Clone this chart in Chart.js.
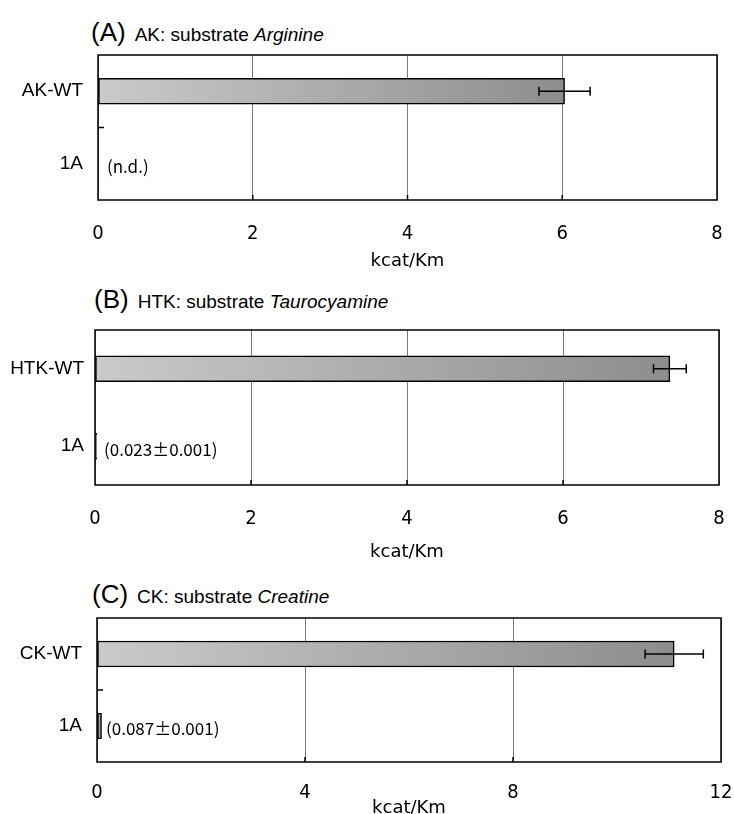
<!DOCTYPE html>
<html>
<head>
<meta charset="utf-8">
<script src="https://cdn.jsdelivr.net/npm/chart.js@4"></script>
<style>
  body { margin: 0; background: #fff; }
  #page { position: relative; width: 734px; height: 814px; }
  canvas { position: absolute; left: 0; }
  .ttl { position: absolute; font-family: 'Liberation Sans', Arial, sans-serif; line-height: 26px; white-space: nowrap; color: #000; }
  .ttl .big { font-size: 26px; }
  .ttl .sub { font-size: 19px; margin-left: 9px; }
</style>
</head>
<body>
<div id="page">
  <div class="ttl" style="left:91px; top:19px;"><span class="big">(A)</span><span class="sub">AK: substrate <i>Arginine</i></span></div>
  <div class="ttl" style="left:94px; top:286px;"><span class="big">(B)</span><span class="sub">HTK: substrate <i>Taurocyamine</i></span></div>
  <div class="ttl" style="left:92px; top:581px;"><span class="big">(C)</span><span class="sub">CK: substrate <i>Creatine</i></span></div>
  <div style="position:absolute; left:0; top:43px;"><canvas id="chartA" width="734" height="237"></canvas></div>
  <div style="position:absolute; left:0; top:318px;"><canvas id="chartB" width="734" height="252"></canvas></div>
  <div style="position:absolute; left:0; top:606px;"><canvas id="chartC" width="734" height="208"></canvas></div>
</div>
<script>
// (A) AK, substrate arginine
const akLabels = ['AK-WT', '1A'];
const akValues = [6.03, 0];
const akErrors = [0.33, null];
const akNotes = ['', '(n.d.)'];

// (B) HTK, substrate taurocyamine
const htkLabels = ['HTK-WT', '1A'];
const htkValues = [7.37, 0.023];
const htkErrors = [0.21, null];
const htkNotes = ['', '(0.023\u00b10.001)'];

// (C) CK, substrate creatine
const ckLabels = ['CK-WT', '1A'];
const ckValues = [11.1, 0.087];
const ckErrors = [0.56, null];
const ckNotes = ['', '(0.087\u00b10.001)'];

const axisTitle = 'kcat/Km';

const tickFont = "'Liberation Sans Narrow', 'DejaVu Sans Condensed', sans-serif";
const catFont = "'Liberation Sans', Arial, sans-serif";
const noteFont = "'Noto Sans CJK JP', sans-serif";

// error bars, notes, outer box and the little inner ticks
const framePlugin = {
    id: 'frame',
    afterDatasetsDraw(chart, args, opts) {
        const { ctx, chartArea: a, scales: { x, y } } = chart;
        const ds = chart.data.datasets[0];
        const meta = chart.getDatasetMeta(0);
        ctx.save();
        ctx.strokeStyle = '#000';
        ctx.lineWidth = 1.5;
        meta.data.forEach((bar, i) => {
            const e = ds.errors[i];
            if (e == null) return;
            const v = ds.data[i];
            const x1 = x.getPixelForValue(v - e);
            const x2 = x.getPixelForValue(v + e);
            ctx.beginPath();
            ctx.moveTo(x1, bar.y); ctx.lineTo(x2, bar.y);
            ctx.moveTo(x1, bar.y - 4.5); ctx.lineTo(x1, bar.y + 4.5);
            ctx.moveTo(x2, bar.y - 4.5); ctx.lineTo(x2, bar.y + 4.5);
            ctx.stroke();
        });

        ctx.fillStyle = '#000';
        ctx.font = '17px ' + noteFont;
        ctx.textBaseline = 'middle';
        ctx.textAlign = 'left';
        meta.data.forEach((bar, i) => {
            const note = ds.notes[i];
            if (!note) return;
            const tx = Math.max(bar.x + 3, a.left + 9);
            ctx.fillText(note, tx, bar.y + 3);
        });

        // outer box
        ctx.lineWidth = 1.5;
        ctx.strokeRect(a.left, a.top, a.width, a.height);

        // short ticks pointing inward on the bottom axis
        ctx.beginPath();
        x.ticks.forEach((t, i) => {
            if (i === 0 || i === x.ticks.length - 1) return;
            const px = x.getPixelForValue(t.value);
            ctx.moveTo(px, a.bottom); ctx.lineTo(px, a.bottom - 5);
        });
        // separator tick between the two categories
        if (opts.sepTick) {
            const sy = (y.getPixelForTick(0) + y.getPixelForTick(1)) / 2;
            ctx.moveTo(a.left, sy); ctx.lineTo(a.left + 6, sy);
        }
        ctx.stroke();
        ctx.restore();
    }
};

function barGradient(c) {
    const chart = c.chart;
    if (!chart.chartArea || c.type !== 'data') return '#aaaaaa';
    const x = chart.scales.x;
    const x0 = x.getPixelForValue(0);
    const x1 = x.getPixelForValue(c.raw);
    if (x1 - x0 < 2) return '#9a9a9a';
    const g = chart.ctx.createLinearGradient(x0, 0, x1, 0);
    g.addColorStop(0, '#cacaca');
    g.addColorStop(1, '#8d8d8d');
    return g;
}

function makeChart(id, labels, values, errors, notes, p) {
    return new Chart(document.getElementById(id).getContext('2d'), {
        type: 'bar',
        data: {
            labels,
            datasets: [{
                data: values,
                errors,
                notes,
                backgroundColor: barGradient,
                borderColor: '#000',
                borderWidth: 1.5,
                borderSkipped: false,
                barThickness: 26
            }]
        },
        options: {
            indexAxis: 'y',
            responsive: false,
            animation: false,
            layout: { padding: { top: 12, right: p.right, left: 0, bottom: 0 } },
            plugins: {
                legend: { display: false },
                tooltip: { enabled: false },
                frame: { sepTick: p.sepTick }
            },
            scales: {
                x: {
                    min: 0,
                    max: p.max,
                    ticks: {
                        stepSize: p.step,
                        padding: 0,
                        color: '#000',
                        font: { family: tickFont, size: 20 }
                    },
                    grid: {
                        color: '#7a7a7a',
                        lineWidth: 1,
                        drawTicks: true,
                        tickLength: p.tickPad,
                        tickColor: 'rgba(0,0,0,0)'
                    },
                    border: { display: false },
                    title: {
                        display: true,
                        text: axisTitle,
                        color: '#000',
                        font: { family: "'DejaVu Sans', sans-serif", size: 18, lineHeight: p.titleLH },
                        padding: { top: 0, bottom: p.titlePad }
                    },
                    afterFit(s) { s.height = p.xHeight; }
                },
                y: {
                    ticks: {
                        padding: 0,
                        color: '#000',
                        font: { family: catFont, size: 19 }
                    },
                    grid: {
                        display: true,
                        drawOnChartArea: false,
                        drawTicks: true,
                        tickLength: p.catPad,
                        tickColor: 'rgba(0,0,0,0)'
                    },
                    border: { display: false },
                    afterFit(s) { s.width = p.left; }
                }
            }
        },
        plugins: [framePlugin]
    });
}

makeChart('chartA', akLabels, akValues, akErrors, akNotes,
    { right: 17, left: 98, max: 8, step: 2, tickPad: 22, titlePad: 8, titleLH: 1.2, xHeight: 80, catPad: 15, sepTick: true });
makeChart('chartB', htkLabels, htkValues, htkErrors, htkNotes,
    { right: 15, left: 95, max: 8, step: 2, tickPad: 22, titlePad: 7, titleLH: 1.2, xHeight: 85, catPad: 11, sepTick: false });
makeChart('chartC', ckLabels, ckValues, ckErrors, ckNotes,
    { right: 13, left: 97, max: 12, step: 4, tickPad: 19, titlePad: 0, titleLH: 0.67, xHeight: 52, catPad: 15, sepTick: true });
</script>
</body>
</html>
